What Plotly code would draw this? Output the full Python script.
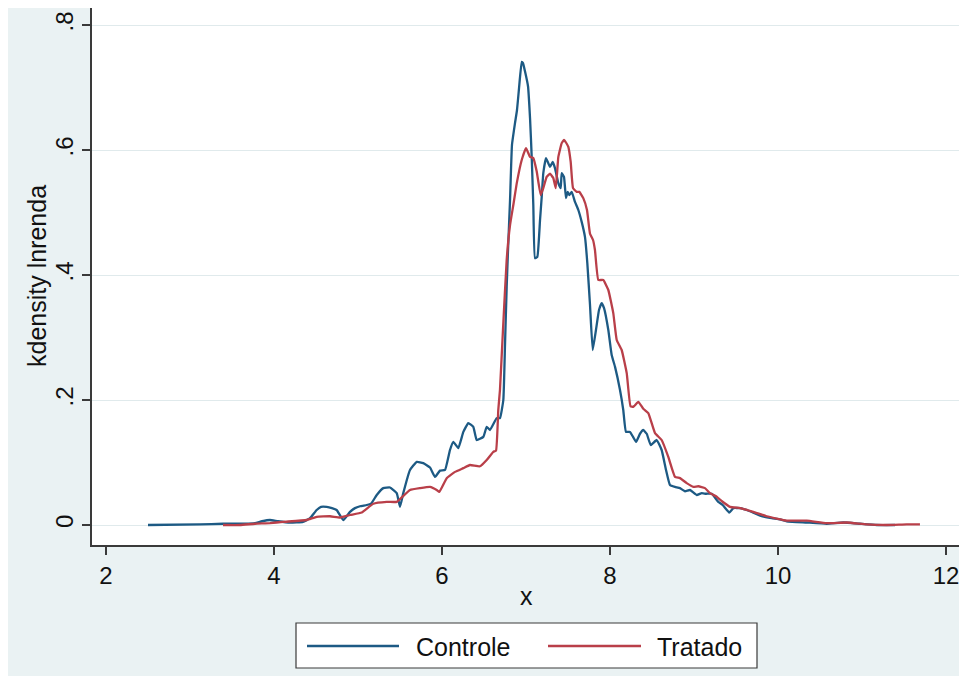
import plotly.graph_objects as go

# ---- data ----
controle_x = [2.500, 3.119, 3.393, 3.655, 3.774, 3.857, 3.952, 4.048, 4.190, 4.345, 4.429, 4.508,
              4.560, 4.627, 4.690, 4.746, 4.825, 4.905, 4.964, 5.024, 5.104, 5.155, 5.223, 5.301,
              5.381, 5.461, 5.500, 5.539, 5.619, 5.699, 5.777, 5.857, 5.917, 5.976, 6.036, 6.095,
              6.135, 6.194, 6.254, 6.313, 6.373, 6.413, 6.492, 6.532, 6.571, 6.651, 6.690, 6.730,
              6.750, 6.770, 6.786, 6.810, 6.833, 6.869, 6.893, 6.917, 6.949, 6.964, 6.988, 7.024,
              7.048, 7.068, 7.087, 7.107, 7.135, 7.167, 7.187, 7.206, 7.238, 7.286, 7.318, 7.345,
              7.385, 7.413, 7.425, 7.452, 7.476, 7.496, 7.515, 7.544, 7.583, 7.623, 7.663, 7.702,
              7.730, 7.762, 7.794, 7.833, 7.869, 7.901, 7.929, 7.980, 8.020, 8.060, 8.119, 8.158,
              8.190, 8.238, 8.274, 8.310, 8.357, 8.396, 8.437, 8.485, 8.556, 8.615, 8.667, 8.714,
              8.774, 8.833, 8.893, 8.952, 9.032, 9.092, 9.143, 9.211, 9.289, 9.342, 9.420, 9.468,
              9.548, 9.667, 9.806, 9.925, 10.024, 10.104, 10.342, 10.580, 10.777, 10.976, 11.175,
              11.393]
controle_y = [0.000, 0.001, 0.002, 0.002, 0.003, 0.006, 0.008, 0.006, 0.004, 0.005, 0.011, 0.024,
              0.029, 0.029, 0.027, 0.024, 0.008, 0.021, 0.027, 0.030, 0.032, 0.034, 0.048, 0.059,
              0.060, 0.051, 0.029, 0.051, 0.088, 0.101, 0.099, 0.092, 0.077, 0.087, 0.088, 0.120,
              0.133, 0.123, 0.149, 0.163, 0.157, 0.136, 0.141, 0.157, 0.152, 0.171, 0.171, 0.200,
              0.288, 0.381, 0.440, 0.520, 0.608, 0.643, 0.664, 0.699, 0.741, 0.739, 0.726, 0.702,
              0.651, 0.589, 0.512, 0.427, 0.429, 0.488, 0.525, 0.563, 0.587, 0.573, 0.581, 0.571,
              0.547, 0.539, 0.563, 0.557, 0.523, 0.533, 0.528, 0.533, 0.517, 0.504, 0.485, 0.461,
              0.419, 0.352, 0.280, 0.312, 0.344, 0.355, 0.347, 0.312, 0.272, 0.253, 0.216, 0.184,
              0.149, 0.149, 0.141, 0.133, 0.146, 0.152, 0.146, 0.128, 0.136, 0.120, 0.088, 0.064,
              0.061, 0.059, 0.054, 0.056, 0.048, 0.051, 0.050, 0.050, 0.037, 0.032, 0.020, 0.027,
              0.027, 0.022, 0.014, 0.011, 0.009, 0.006, 0.004, 0.002, 0.004, 0.002, 0.000,
              0.000]

tratado_x = [3.393, 3.595, 3.774, 3.952, 4.107, 4.389, 4.508, 4.667, 4.786, 4.905, 5.044, 5.182,
             5.342, 5.461, 5.512, 5.619, 5.738, 5.857, 5.937, 5.968, 6.056, 6.155, 6.254, 6.333,
             6.452, 6.532, 6.611, 6.643, 6.670, 6.690, 6.726, 6.770, 6.810, 6.849, 6.893, 6.949,
             7.000, 7.048, 7.087, 7.127, 7.175, 7.206, 7.246, 7.286, 7.325, 7.354, 7.385, 7.425,
             7.452, 7.485, 7.504, 7.532, 7.560, 7.604, 7.635, 7.682, 7.726, 7.762, 7.798, 7.821,
             7.861, 7.920, 7.980, 8.039, 8.080, 8.139, 8.199, 8.244, 8.277, 8.337, 8.396, 8.456,
             8.536, 8.615, 8.694, 8.774, 8.833, 8.913, 8.992, 9.051, 9.131, 9.190, 9.262, 9.333,
             9.429, 9.548, 9.706, 9.865, 10.104, 10.342, 10.580, 10.818, 11.056, 11.294, 11.532,
             11.690]
tratado_y = [0.000, 0.000, 0.002, 0.003, 0.005, 0.008, 0.013, 0.014, 0.012, 0.016, 0.020, 0.034,
             0.037, 0.037, 0.043, 0.056, 0.059, 0.061, 0.056, 0.053, 0.075, 0.085, 0.091, 0.096,
             0.094, 0.104, 0.117, 0.119, 0.184, 0.216, 0.312, 0.424, 0.480, 0.512, 0.549, 0.584,
             0.603, 0.589, 0.587, 0.566, 0.528, 0.539, 0.557, 0.562, 0.555, 0.539, 0.589, 0.611,
             0.616, 0.610, 0.605, 0.581, 0.539, 0.533, 0.533, 0.523, 0.504, 0.466, 0.456, 0.440,
             0.392, 0.392, 0.376, 0.339, 0.296, 0.280, 0.243, 0.190, 0.189, 0.197, 0.186, 0.179,
             0.147, 0.136, 0.109, 0.077, 0.075, 0.067, 0.061, 0.062, 0.059, 0.051, 0.046, 0.038,
             0.029, 0.027, 0.021, 0.014, 0.007, 0.007, 0.003, 0.004, 0.001, 0.000, 0.001,
             0.001]

y_ticks = [0, 0.2, 0.4, 0.6, 0.8]
y_ticktext = ["0", ".2", ".4", ".6", ".8"]
x_ticks = [2, 4, 6, 8, 10, 12]
series_names = ["Controle", "Tratado"]

# ---- style ----
BLUE = "#1D5A84"
RED = "#B93F49"
BG = "#EAF2F3"
GRID = "#E0EAEC"
AXIS = "#3a3a3a"
FONT = "Liberation Sans, Arial, sans-serif"

# page body has an 8px margin; the figure covers screen x 8..962, y 8..676
OFF = 8
W, H = 954, 668
PL, PR, PT, PB = 92, 960, 8, 545          # plot area in screen pixels
ML, MR, MT, MB = PL - OFF, OFF + W - PR, PT - OFF, OFF + H - PB
PW, PH = PR - PL, PB - PT


def px(s):
    return (s - PL) / PW


def py(s):
    return (PB - s) / PH


line_common = dict(width=2.3, shape="spline", smoothing=0.35)

fig = go.Figure()
fig.add_trace(go.Scatter(x=controle_x, y=controle_y, mode="lines", name=series_names[0],
                         line=dict(color=BLUE, **line_common), showlegend=False))
fig.add_trace(go.Scatter(x=tratado_x, y=tratado_y, mode="lines", name=series_names[1],
                         line=dict(color=RED, **line_common), showlegend=False))

shapes = [
    dict(type="rect", xref="paper", yref="paper", x0=px(296), x1=px(757), y0=py(668), y1=py(623),
         fillcolor="white", line=dict(color=AXIS, width=1.2), layer="above"),
    dict(type="line", xref="paper", yref="paper", x0=px(307), x1=px(399), y0=py(646), y1=py(646),
         line=dict(color=BLUE, width=2.3)),
    dict(type="line", xref="paper", yref="paper", x0=px(548), x1=px(641), y0=py(646), y1=py(646),
         line=dict(color=RED, width=2.3)),
]

TXT = dict(size=25, color="#111", family=FONT)
annotations = [
    dict(text=series_names[0], xref="paper", yref="paper", x=px(414), y=py(647), xanchor="left",
         yanchor="middle", showarrow=False, font=TXT),
    dict(text=series_names[1], xref="paper", yref="paper", x=px(655), y=py(647), xanchor="left",
         yanchor="middle", showarrow=False, font=TXT),
    dict(text="x", xref="paper", yref="paper", x=px(526), y=py(596), xanchor="center",
         yanchor="middle", showarrow=False, font=TXT),
    dict(text="kdensity lnrenda", xref="paper", yref="paper", x=px(37), y=py(276),
         xanchor="center", yanchor="middle", textangle=-90, showarrow=False, font=TXT),
]

TICKF = dict(size=24, family=FONT, color="#111")
fig.update_layout(
    width=W, height=H,
    margin=dict(l=ML, r=MR, t=MT, b=MB, pad=0),
    paper_bgcolor=BG, plot_bgcolor="white",
    font=dict(family=FONT, size=24, color="#111"),
    shapes=shapes, annotations=annotations,
    showlegend=False,
    xaxis=dict(range=[2 + (PL - 106) / 84, 2 + (PR - 106) / 84],
               tickvals=x_ticks, ticktext=[str(v) for v in x_ticks],
               showgrid=False, zeroline=False, showline=True, linecolor=AXIS, linewidth=1.5,
               ticks="outside", ticklen=8, tickwidth=1.5, tickcolor=AXIS, tickfont=TICKF),
    yaxis=dict(range=[(525 - PB) / 625, (525 - PT) / 625],
               tickvals=y_ticks, ticktext=y_ticktext, tickangle=-90,
               showgrid=True, gridcolor=GRID, gridwidth=1.3, zeroline=False,
               showline=True, linecolor=AXIS, linewidth=1.5,
               ticks="outside", ticklen=8, tickwidth=1.5, tickcolor=AXIS, tickfont=TICKF),
)

fig.write_html("out.html")
